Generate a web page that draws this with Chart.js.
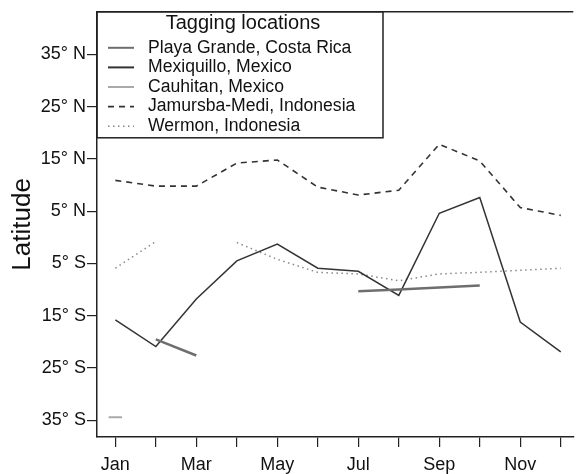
<!DOCTYPE html>
<html>
<head>
<meta charset="utf-8">
<script src="https://cdn.jsdelivr.net/npm/chart.js@4"></script>
<style>
  html, body { margin: 0; padding: 0; background: #fff; }
  #wrap { width: 582px; height: 474px; }
</style>
</head>
<body>
<div id="wrap"><canvas id="latChart"></canvas></div>
<script>
  // months on x, every second one labelled
  const months = ['Jan', 'Feb', 'Mar', 'Apr', 'May', 'Jun', 'Jul', 'Aug', 'Sep', 'Oct', 'Nov', 'Dec'];
  const yTicks = [-35, -25, -15, -5, 5, 15, 25, 35];

  // mean latitude per month (negative = south)
  const playaGrande = [null, -19.5, -22.6, null, null, null, -10.3, -10.0, -9.6, -9.2, null, null];
  const mexiquillo = [-15.8, -20.9, -11.8, -4.5, -1.3, -5.9, -6.5, -11.1, 4.6, 7.6, -16.2, -21.9];
  const cauhitan = [-34.4, null, null, null, null, null, null, null, null, null, null, null];
  const jamursba = [10.9, 9.8, 9.8, 14.2, 14.8, 9.6, 8.1, 9.0, 17.8, 14.6, 5.7, 4.2];
  const wermon = [-5.9, -0.8, null, -1.0, -4.2, -6.7, -7.0, -8.3, -7.0, -6.7, -6.3, -5.9];

  const toPoints = vals => vals.map((v, i) => ({ x: i, y: v }));
  const FONT = "'Liberation Sans', Arial, Helvetica, sans-serif";

  const frameAndLegend = {
    id: 'frameAndLegend',
    afterDraw(chart) {
      const ctx = chart.ctx;
      const a = chart.chartArea;
      ctx.save();
      ctx.strokeStyle = '#222';
      ctx.lineWidth = 1.5;
      ctx.beginPath();
      ctx.moveTo(a.left, a.top);
      ctx.lineTo(a.right, a.top);
      ctx.stroke();

      // legend box in the top-left corner
      const bx = a.left, by = a.top, bw = 286, bh = 126;
      ctx.strokeRect(bx, by, bw, bh);
      ctx.fillStyle = '#111';
      ctx.textBaseline = 'middle';
      ctx.textAlign = 'center';
      ctx.font = '20px ' + FONT;
      ctx.fillText('Tagging locations', bx + 146, by + 12);
      ctx.textAlign = 'left';
      ctx.font = '17.6px ' + FONT;
      chart.data.datasets.forEach((ds, i) => {
        const y = by + 36 + i * 19.6;
        ctx.strokeStyle = ds.borderColor;
        ctx.lineWidth = ds.legendWidth || ds.borderWidth;
        ctx.setLineDash(ds.borderDash || []);
        ctx.beginPath();
        ctx.moveTo(bx + 11, y);
        ctx.lineTo(bx + 37, y);
        ctx.stroke();
        ctx.setLineDash([]);
        ctx.fillText(ds.label, bx + 51, y);
      });
      ctx.restore();
    }
  };

  const ctx = document.getElementById('latChart').getContext('2d');
  new Chart(ctx, {
    type: 'line',
    data: {
      datasets: [
        {
          label: 'Playa Grande, Costa Rica',
          data: toPoints(playaGrande),
          borderColor: '#6e6e6e',
          borderWidth: 2.5,
          legendWidth: 2
        },
        {
          label: 'Mexiquillo, Mexico',
          data: toPoints(mexiquillo),
          borderColor: '#333',
          borderWidth: 1.5,
          legendWidth: 2
        },
        {
          label: 'Cauhitan, Mexico',
          data: toPoints(cauhitan),
          borderColor: '#aaa',
          borderWidth: 2,
          pointStyle: 'line',
          pointRadius: 6.7,
          pointBorderWidth: 2,
          pointBorderColor: '#aaa'
        },
        {
          label: 'Jamursba-Medi, Indonesia',
          data: toPoints(jamursba),
          borderColor: '#333',
          borderWidth: 1.6,
          borderDash: [6, 5]
        },
        {
          label: 'Wermon, Indonesia',
          data: toPoints(wermon),
          borderColor: '#888',
          borderWidth: 1.5,
          borderDash: [1.5, 3.5]
        }
      ]
    },
    options: {
      responsive: true,
      maintainAspectRatio: false,
      animation: false,
      spanGaps: false,
      layout: { padding: { top: 10, right: 0, left: 0, bottom: 0 } },
      elements: {
        point: { radius: 0 },
        line: { tension: 0, fill: false }
      },
      scales: {
        x: {
          type: 'linear',
          min: -0.453,
          max: 11.31,
          afterBuildTicks: s => { s.ticks = months.map((m, i) => ({ value: i })); },
          afterFit: s => { s.height = 37; },
          grid: { drawOnChartArea: false, drawTicks: true, tickLength: 10, color: '#222', lineWidth: 1.2 },
          border: { display: true, color: '#222', width: 1.5 },
          ticks: {
            autoSkip: false,
            maxRotation: 0,
            padding: 7,
            color: '#111',
            font: { family: FONT, size: 18 },
            callback: v => (v % 2 === 0 ? months[v] : '')
          }
        },
        y: {
          min: -38.19,
          max: 43.14,
          afterBuildTicks: s => { s.ticks = yTicks.map(v => ({ value: v })); },
          afterFit: s => { s.width = 97; },
          grid: { drawOnChartArea: false, drawTicks: true, tickLength: 10, color: '#222', lineWidth: 1.2 },
          border: { display: true, color: '#222', width: 1.5 },
          ticks: {
            padding: 1,
            color: '#111',
            font: { family: FONT, size: 18 },
            callback: v => (v > 0 ? v + '\u00b0 N' : -v + '\u00b0 S')
          },
          title: {
            display: true,
            text: 'Latitude',
            color: '#111',
            font: { family: FONT, size: 26 },
            padding: { top: 7, bottom: 0 }
          }
        }
      },
      plugins: {
        legend: { display: false },
        tooltip: { enabled: false }
      }
    },
    plugins: [frameAndLegend]
  });
</script>
</body>
</html>
